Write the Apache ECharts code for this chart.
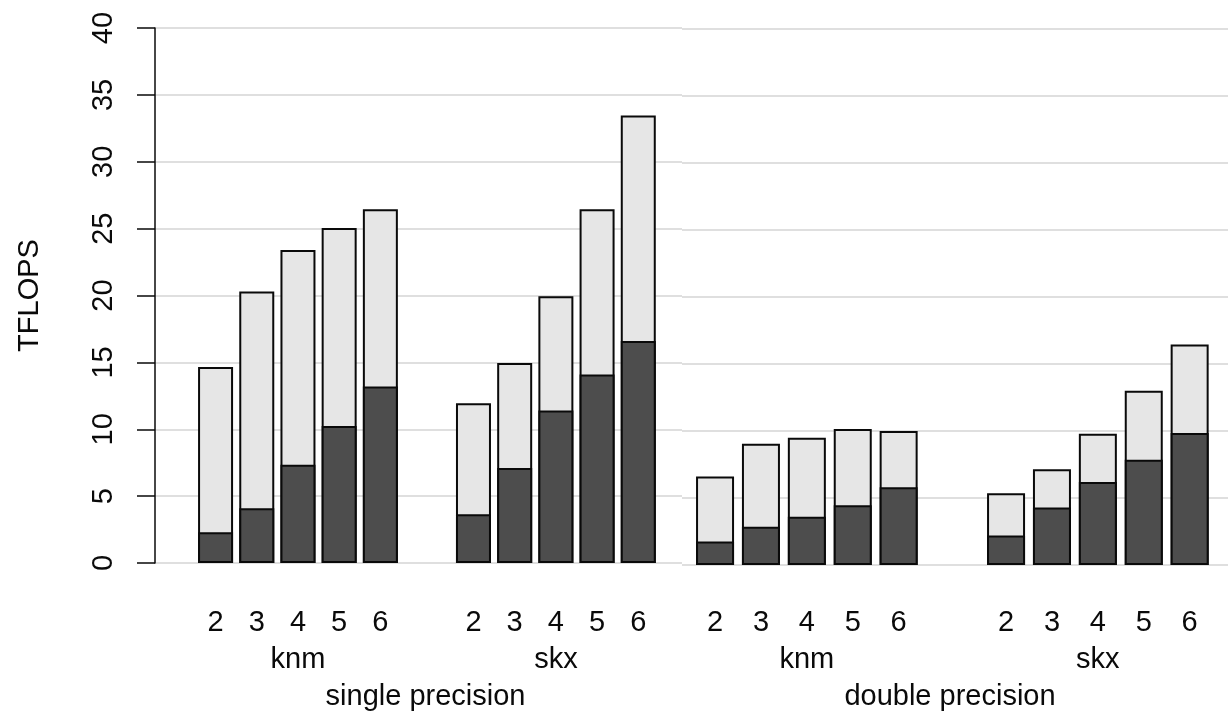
<!DOCTYPE html>
<html>
<head>
<meta charset="utf-8">
<title>TFLOPS</title>
<script src="https://cdn.jsdelivr.net/npm/echarts@6.0.0/dist/echarts.min.js"></script>
<style>
	html, body { margin: 0; padding: 0; background: #fff; }
	#chart { width: 1228px; height: 714px; }
</style>
</head>
<body>
<div id="chart"></div>
<script>
/* labels */
var procLabels = ['2', '3', '4', '5', '6'];
var machineLabels = ['knm', 'skx'];
var precisionLabels = ['single precision', 'double precision'];
var yMin = 0, yMax = 40, yStep = 5;

/* single precision: dark part / full bar */
var spKnmPart = [2.3, 4.1, 7.35, 10.25, 13.2];
var spKnmTotal = [14.65, 20.3, 23.4, 25.05, 26.45];
var spSkxPart = [3.65, 7.1, 11.4, 14.1, 16.6];
var spSkxTotal = [11.95, 14.95, 19.95, 26.45, 33.45];

/* double precision */
var dpKnmPart = [1.75, 2.85, 3.6, 4.45, 5.8];
var dpKnmTotal = [6.6, 9.05, 9.5, 10.15, 10.0];
var dpSkxPart = [2.2, 4.3, 6.2, 7.85, 9.85];
var dpSkxTotal = [5.35, 7.15, 9.8, 13.0, 16.45];

var font = "'Liberation Sans', Arial, sans-serif";
var ink = '#0a0a0a';

// two panels side by side, each with its own x scale (in bar pitches)
var panels = [{
	left: 155, width: 527, top: 28, bottom: 151, shift: 0,
	pitch: 41.2, starts: [1.47, 7.73], barWidth: 35,
	part: [spKnmPart, spSkxPart], total: [spKnmTotal, spSkxTotal],
	name: precisionLabels[0], namePad: [0, 0, 0, 14]
}, {
	left: 682, width: 546, top: 29, bottom: 149, shift: -2,
	pitch: 45.9, starts: [0.72, 7.06], barWidth: 38,
	part: [dpKnmPart, dpSkxPart], total: [dpKnmTotal, dpSkxTotal],
	name: precisionLabels[1], namePad: [0, 10, 0, 0]
}];

var grid = [], xAxis = [], yAxis = [], series = [];

panels.forEach(function(p, pi) {
	var barPos = [], groupPos = [];
	p.starts.forEach(function(s) {
		procLabels.forEach(function(l, i) { barPos.push(s + i); });
		groupPos.push(s + (procLabels.length - 1) / 2);
	});

	grid.push({
		left: p.left, width: p.width, top: p.top, bottom: p.bottom,
		containLabel: false, outerBoundsMode: 'none'
	});

	var xBase = {
		type: 'value', gridIndex: pi, position: 'bottom', min: 0, max: p.width / p.pitch,
		axisLine: { show: false }, axisTick: { show: false }, splitLine: { show: false }
	};
	// bar labels 2..6
	xAxis.push(Object.assign({}, xBase, {
		axisLabel: {
			customValues: barPos, margin: 45 + p.shift, fontSize: 29, fontFamily: font, color: ink,
			formatter: function(v) {
				for (var k = 0; k < barPos.length; k++) {
					if (Math.abs(barPos[k] - v) < 1e-6) return procLabels[k % procLabels.length];
				}
				return '';
			}
		}
	}));
	// machine labels + precision name
	xAxis.push(Object.assign({}, xBase, {
		name: p.name, nameLocation: 'middle', nameGap: 119 + p.shift,
		nameTextStyle: { fontSize: 29, fontFamily: font, color: ink, padding: p.namePad },
		axisLabel: {
			customValues: groupPos, margin: 82 + p.shift, fontSize: 29, fontFamily: font, color: ink,
			formatter: function(v) {
				for (var k = 0; k < groupPos.length; k++) {
					if (Math.abs(groupPos[k] - v) < 1e-6) return machineLabels[k];
				}
				return '';
			}
		}
	}));

	var splitLine = { show: true, lineStyle: { color: '#d4d4d4', width: 1.5 } };
	if (pi === 0) {
		yAxis.push({
			type: 'value', gridIndex: 0, min: yMin, max: yMax, interval: yStep,
			name: 'TFLOPS', nameLocation: 'middle', nameRotate: 90, nameGap: 111,
			nameTextStyle: { fontSize: 29, fontFamily: font, color: ink },
			axisLine: { show: true, lineStyle: { color: ink, width: 1.5 } },
			axisTick: { show: true, length: 18, lineStyle: { color: ink, width: 1.5 } },
			axisLabel: { rotate: 90, margin: 37, fontSize: 29, fontFamily: font, color: ink },
			splitLine: splitLine
		});
	} else {
		yAxis.push({
			type: 'value', gridIndex: 1, min: yMin, max: yMax, interval: yStep,
			axisLine: { show: false }, axisTick: { show: false }, axisLabel: { show: false },
			splitLine: splitLine
		});
	}

	var totalData = [], partData = [];
	p.starts.forEach(function(s, g) {
		procLabels.forEach(function(l, i) {
			totalData.push([s + i, p.total[g][i]]);
			partData.push([s + i, p.part[g][i]]);
		});
	});

	series.push({
		type: 'bar', xAxisIndex: pi * 2, yAxisIndex: pi, data: totalData,
		barWidth: p.barWidth, barGap: '-100%',
		itemStyle: { color: '#e6e6e6', borderColor: ink, borderWidth: 2 }
	});
	series.push({
		type: 'bar', xAxisIndex: pi * 2, yAxisIndex: pi, data: partData,
		barWidth: p.barWidth, barGap: '-100%',
		itemStyle: { color: '#4d4d4d', borderColor: ink, borderWidth: 2 }
	});
});

var chart = echarts.init(document.getElementById('chart'));
chart.setOption({
	animation: false,
	backgroundColor: '#fff',
	grid: grid,
	xAxis: xAxis,
	yAxis: yAxis,
	series: series
});
</script>
</body>
</html>
